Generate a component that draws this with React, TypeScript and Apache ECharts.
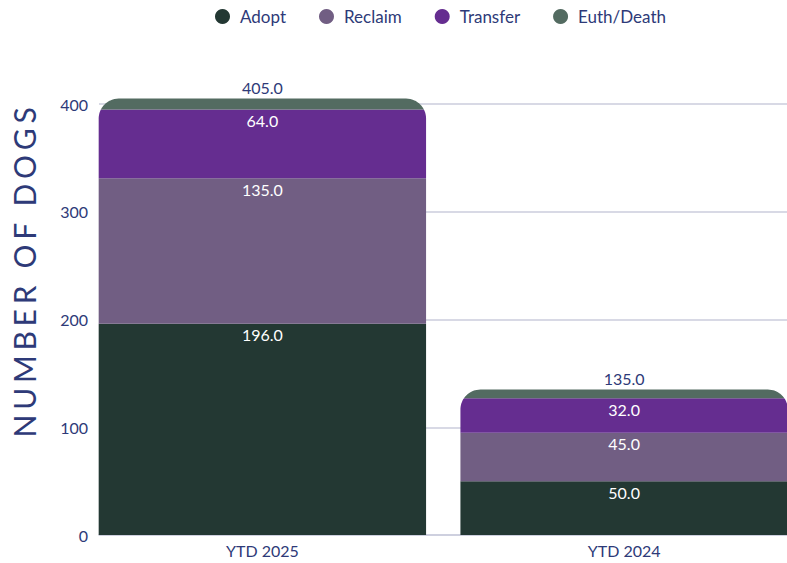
import React, { useEffect, useRef } from "react";
import * as echarts from "echarts";

const categories = ["YTD 2025", "YTD 2024"];
const seriesNames = ["Adopt", "Reclaim", "Transfer", "Euth/Death"];
const adopt = [196, 50];
const reclaim = [135, 45];
const transfer = [64, 32];
const euthDeath = [10, 8];
const totals = [405, 135];
const yMin = 0;
const yMax = 400;
const yInterval = 100;

const colors = ["#233833", "#715e83", "#652d90", "#536b61"];
const showInnerLabel = [true, true, true, false];
const NAVY = "#2e3a78";
const GRID = "#cbcddd";
const FONT = "Lato, 'Noto Sans', sans-serif";
const RADIUS = 20;
const BAR_RATIO = 0.905;
const CHART_W = 805;
const VIEW_W = 787;
const H = 563;

const valueSets = [adopt, reclaim, transfer, euthDeath];

function cornerOffset(y: number, T: number, R: number) {
  if (y >= T + R) return 0;
  const d = T + R - y;
  return R - Math.sqrt(Math.max(0, R * R - d * d));
}

export default function App() {
  const ref = useRef<HTMLDivElement>(null);
  useEffect(() => {
    document.body.style.margin = "0";
    const chart = echarts.init(ref.current!, null, { renderer: "svg" });

    const stackSeries = valueSets.map((vals, k) => {
      const data = vals.map((v, i) => {
        let base = 0;
        for (let j = 0; j < k; j++) base += valueSets[j][i];
        return [i, base, base + v, v, totals[i]];
      });
      return {
        type: "custom",
        name: seriesNames[k],
        xAxisIndex: 1,
        yAxisIndex: 1,
        clip: false,
        itemStyle: { color: colors[k] },
        encode: { x: 0, y: [1, 2] },
        data,
        renderItem: (params: any, api: any) => {
          const ci = api.value(0);
          const lo = api.value(1);
          const hi = api.value(2);
          const v = api.value(3);
          const tot = api.value(4);
          const band = api.size([1, 0])[0];
          const w = band * BAR_RATIO;
          const pB = api.coord([ci, lo]);
          const pH = api.coord([ci, hi]);
          const pT = api.coord([ci, tot]);
          const x0 = pB[0] - w / 2;
          const x1 = pB[0] + w / 2;
          const yB = pB[1];
          const yT = pH[1];
          const T = pT[1];
          const left: number[][] = [];
          const right: number[][] = [];
          const yEnd = Math.min(yB, T + RADIUS);
          const steps = 24;
          if (yEnd > yT) {
            for (let s = 0; s <= steps; s++) {
              const y = yT + ((yEnd - yT) * s) / steps;
              const off = cornerOffset(y, T, RADIUS);
              left.push([x0 + off, y]);
              right.push([x1 - off, y]);
            }
          } else {
            left.push([x0, yT]);
            right.push([x1, yT]);
          }
          left.push([x0, yB]);
          right.push([x1, yB]);
          const points = left.concat(right.reverse());
          const children: any[] = [
            {
              type: "polygon",
              shape: { points },
              style: { fill: colors[k] },
            },
          ];
          if (showInnerLabel[k]) {
            children.push({
              type: "text",
              x: pB[0],
              y: yT + 3,
              style: {
                text: Number(v).toFixed(1),
                fill: "#ffffff",
                fontSize: 16,
                fontFamily: FONT,
                align: "center",
                verticalAlign: "top",
              },
            });
          }
          return { type: "group", children };
        },
      };
    });

    const totalSeries = {
      type: "custom",
      name: "Total",
      xAxisIndex: 1,
      yAxisIndex: 1,
      clip: false,
      encode: { x: 0, y: 1 },
      data: totals.map((t, i) => [i, t]),
      renderItem: (params: any, api: any) => {
        const p = api.coord([api.value(0), api.value(1)]);
        return {
          type: "text",
          x: p[0],
          y: p[1] - 3,
          style: {
            text: Number(api.value(1)).toFixed(1),
            fill: NAVY,
            fontSize: 16,
            fontFamily: FONT,
            align: "center",
            verticalAlign: "bottom",
          },
        };
      },
    };

    chart.setOption({
      animation: false,
      textStyle: { fontFamily: FONT },
      legend: {
        data: seriesNames,
        left: 210,
        top: 3,
        icon: "circle",
        itemWidth: 25,
        itemHeight: 15,
        itemGap: 33,
        textStyle: { color: NAVY, fontSize: 17, fontFamily: FONT },
      },
      graphic: [
        {
          type: "text",
          x: 24,
          y: 270,
          rotation: Math.PI / 2,
          style: {
            text: "NUMBER OF DOGS",
            fill: NAVY,
            fontSize: 30,
            fontFamily: FONT,
            align: "center",
            verticalAlign: "middle",
          },
        },
      ],
      grid: [
        { left: 99, right: CHART_W - VIEW_W, top: 104, bottom: 28 },
        { left: 81.5, right: 0, top: 104, bottom: 28 },
      ],
      xAxis: [
        {
          type: "category",
          gridIndex: 0,
          data: categories,
          axisLine: { show: true, lineStyle: { color: GRID, width: 1.5 } },
          axisTick: { show: false },
          axisLabel: { show: false },
          splitLine: { show: false },
        },
        {
          type: "category",
          gridIndex: 1,
          data: categories,
          axisLine: { show: false },
          axisTick: { show: false },
          axisLabel: { color: NAVY, fontSize: 16, fontFamily: FONT, margin: 7 },
        },
      ],
      yAxis: [
        {
          type: "value",
          gridIndex: 0,
          min: yMin,
          max: yMax,
          interval: yInterval,
          axisLine: { show: false },
          axisTick: { show: false },
          axisLabel: { color: NAVY, fontSize: 16, fontFamily: FONT, margin: 11 },
          splitLine: { show: true, lineStyle: { color: GRID, width: 1.5 } },
        },
        {
          type: "value",
          gridIndex: 1,
          min: yMin,
          max: yMax,
          interval: yInterval,
          show: false,
          splitLine: { show: false },
        },
      ],
      series: [...stackSeries, totalSeries],
    });
    return () => chart.dispose();
  }, []);
  return (
    <>
      <style>{`text[style*="30px"]{letter-spacing:4.7px;}`}</style>
      <div style={{ width: VIEW_W, height: H, overflow: "hidden" }}>
        <div ref={ref} style={{ width: CHART_W, height: H }} />
      </div>
    </>
  );
}
